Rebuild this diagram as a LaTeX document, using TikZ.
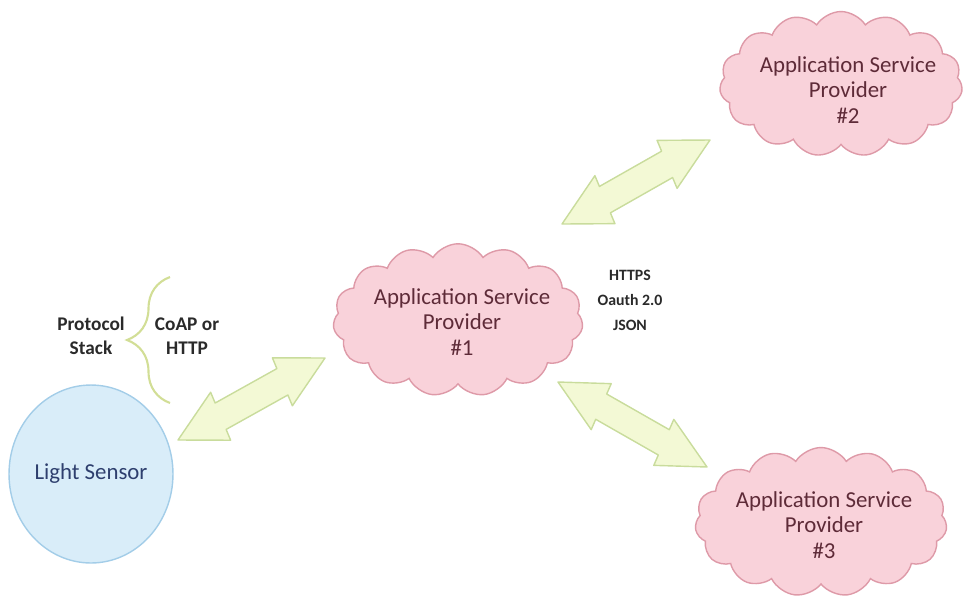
\documentclass[tikz,border=0pt]{standalone}
\usepackage{fontspec}
\setmainfont{Carlito}
\usetikzlibrary{shapes.symbols,shapes.geometric,calc,decorations.pathreplacing}

\definecolor{cloudfill}{HTML}{F9D2DA}
\definecolor{cloudedge}{HTML}{DE9AA8}
\definecolor{cloudtext}{HTML}{5E2B38}
\definecolor{sensorfill}{HTML}{D9EDF9}
\definecolor{sensoredge}{HTML}{A3CDE8}
\definecolor{sensortext}{HTML}{2E3F6E}
\definecolor{arrowfill}{HTML}{F3F9D5}
\definecolor{arrowedge}{HTML}{C9DC9C}
\definecolor{bracecol}{HTML}{D2DE96}
\definecolor{labeltext}{HTML}{2A2A2A}

% Fat double-headed arrow between two tips; #3 is the half head-width vector
\newcommand\fatlink[3]{%
  \draw[fatarrow] (#1)
    -- ($(#1)!0.29!(#2)+#3$) -- ($(#1)!0.29!(#2)+0.55*#3$)
    -- ($(#2)!0.29!(#1)+0.55*#3$) -- ($(#2)!0.29!(#1)+#3$)
    -- (#2)
    -- ($(#2)!0.29!(#1)-#3$) -- ($(#2)!0.29!(#1)-0.55*#3$)
    -- ($(#1)!0.29!(#2)-0.55*#3$) -- ($(#1)!0.29!(#2)-#3$)
    -- cycle;}

\begin{document}
\begin{tikzpicture}[x=0.02cm,y=-0.02cm,
  provider/.style={cloud, cloud puffs=15, cloud puff arc=115, cloud ignores aspect,
    draw=cloudedge, fill=cloudfill, line width=0.8pt, inner sep=0pt,
    minimum width=5cm, minimum height=3.05cm},
  cloudtxt/.style={align=center, text=cloudtext, font=\fontsize{13}{14.6}\selectfont},
  sensor/.style={ellipse, draw=sensoredge, fill=sensorfill, line width=0.8pt,
    inner sep=0pt, minimum width=3.28cm, minimum height=3.56cm, text=sensortext,
    font=\fontsize{13}{15}\selectfont},
  lbl/.style={align=center, text=labeltext, font=\bfseries\fontsize{11}{13.6}\selectfont},
  lblsmall/.style={align=center, text=labeltext, font=\bfseries\fontsize{9}{14.2}\selectfont},
  fatarrow/.style={draw=arrowedge, fill=arrowfill, line width=0.8pt, line join=round},
  bracestyle/.style={draw=bracecol, line width=1.2pt,
    decorate, decoration={brace, amplitude=0.86cm}}
]
\useasboundingbox (0,0) rectangle (964,600);

% devices and services
\node[sensor] (sensor) at (91,474) {Light Sensor};

\node[provider] (asp1) at (458,320) {};
\node[cloudtxt] (asp1t) at ($(asp1)+(4,2)$) {Application Service\\Provider\\\#1};

\node[provider, minimum width=4.86cm, minimum height=2.9cm] (asp2) at (841,84) {};
\node[cloudtxt] (asp2t) at ($(asp2)+(7,6)$) {Application Service\\Provider\\\#2};

\node[provider, minimum width=5.04cm, minimum height=2.98cm] (asp3) at (821,522) {};
\node[cloudtxt] (asp3t) at ($(asp3)+(3,3)$) {Application Service\\Provider\\\#3};

% protocol labels
\node[lbl] (stack) at (91,336) {Protocol\\Stack};
\node[lbl] (coap) at (187,336) {CoAP or\\HTTP};
\node[lblsmall] (web) at (630,300) {HTTPS\\Oauth 2.0\\JSON};

% brace grouping the protocol stack
\coordinate (brlow) at (170,403);
\coordinate (brhigh) at (170,277);
\draw[bracestyle] (brlow) -- (brhigh);

% links
\coordinate (a1) at (178,440);
\coordinate (a2) at (325,358);
\coordinate (b1) at (562,224);
\coordinate (b2) at (710,140);
\coordinate (c1) at (558,382);
\coordinate (c2) at (707,467);
\fatlink{a1}{a2}{(10,24)}
\fatlink{b1}{b2}{(10,24)}
\fatlink{c1}{c2}{(10,-23)}
\end{tikzpicture}
\end{document}
